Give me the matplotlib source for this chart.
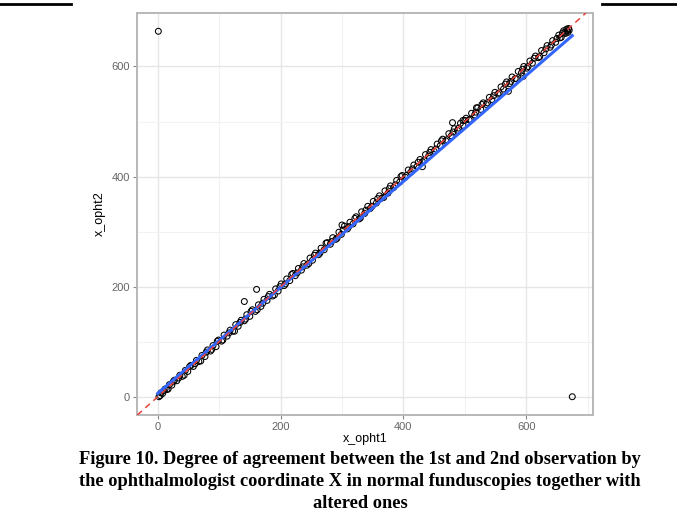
import numpy as np
import matplotlib.pyplot as plt
from matplotlib.lines import Line2D
from matplotlib.ticker import MultipleLocator

# -------------------------------------------------------------------- #
# Data
# -------------------------------------------------------------------- #
x_opht1 = [2, 5, 8, 12, 15, 19, 23, 27, 31, 36, 40, 45, 49, 54, 58, 63, 67, 72, 77, 81,
           86, 90, 95, 99, 104, 108, 113, 118, 122, 127, 131, 136, 141, 145, 150, 154,
           159, 164, 168, 173, 178, 182, 187, 192, 196, 201, 206, 210, 215, 220, 224,
           229, 234, 238, 243, 248, 252, 257, 262, 266, 271, 276, 281, 285, 290, 295,
           299, 304, 309, 313, 318, 323, 328, 332, 337, 342, 346, 351, 356, 361, 365,
           370, 375, 379, 384, 389, 394, 398, 403, 408, 412, 417, 422, 427, 431, 436,
           441, 445, 450, 455, 460, 464, 469, 474, 478, 483, 488, 493, 497, 502, 507,
           511, 516, 521, 526, 530, 535, 540, 544, 549, 554, 559, 563, 568, 573, 577,
           582, 587, 592, 596, 601, 606, 610, 615, 620, 625, 629, 634, 639, 643, 648,
           653, 657, 661, 664, 666, 668, 670,
           # off-line observations
           1, 675, 141, 161, 480, 497, 519, 571, 595, 431, 300]
x_opht2 = [0, 7, 6, 14, 13, 22, 21, 30, 29, 39, 37, 48, 46, 57, 55, 66, 64, 75, 73, 85,
           83, 93, 91, 103, 101, 112, 110, 121, 119, 131, 128, 139, 138, 149, 146, 158,
           155, 167, 164, 177, 175, 186, 183, 196, 192, 205, 202, 214, 211, 224, 220,
           233, 230, 242, 239, 252, 248, 261, 258, 270, 267, 280, 277, 289, 286, 299,
           295, 310, 305, 317, 314, 327, 323, 336, 333, 346, 342, 355, 352, 365, 361,
           374, 370, 383, 380, 393, 390, 402, 399, 412, 408, 421, 418, 431, 427, 440,
           437, 449, 446, 459, 456, 468, 465, 478, 474, 487, 484, 497, 493, 506, 503,
           515, 512, 525, 522, 534, 531, 544, 540, 553, 550, 563, 559, 572, 569, 581,
           578, 591, 588, 600, 597, 610, 606, 619, 616, 629, 625, 638, 635, 647, 644,
           657, 653, 665, 660, 668, 662, 666,
           664, 0, 173, 195, 498, 502, 525, 555, 582, 418, 312]

# second batch of observations lying along the diagonal
x_opht1_b = [4, 10, 17, 25, 34, 43, 52, 61, 70, 79, 88, 97, 106, 116, 125, 134, 143, 152,
             162, 171, 180, 190, 199, 208, 218, 227, 236, 246, 255, 264, 274, 283, 292,
             302, 311, 321, 330, 339, 349, 358, 368, 377, 387, 396, 405, 415, 424, 434,
             443, 453, 462, 471, 481, 490, 500, 509, 518, 528, 537, 547, 556, 566, 575,
             584, 594, 603, 613, 622, 632, 641, 650, 655, 659, 663, 667, 669]
x_opht2_b = [2, 11, 14, 27, 34, 39, 55, 60, 65, 81, 86, 101, 103, 116, 119, 135, 141, 155,
             158, 170, 182, 185, 200, 205, 222, 225, 236, 242, 257, 261, 279, 282, 288,
             303, 309, 324, 325, 339, 346, 360, 362, 378, 385, 400, 402, 414, 426, 429,
             444, 450, 465, 467, 481, 488, 502, 504, 517, 531, 534, 547, 552, 568, 573,
             578, 595, 600, 615, 618, 632, 639, 651, 652, 661, 662, 665, 669]

# lm smooth (blue) end points
fit_x = [0, 675]
fit_y = [6, 656]

caption = ["Figure 10. Degree of agreement between the 1st and 2nd observation by",
           "the ophthalmologist coordinate X in normal funduscopies together with",
           "altered ones"]

# -------------------------------------------------------------------- #
# Plot
# -------------------------------------------------------------------- #
fig = plt.figure(figsize=(6.77, 5.30), dpi=100)
ax = fig.add_axes([137/677, 1 - 415/530, (593 - 137)/677, (415 - 13)/530])

ax.scatter(x_opht1 + x_opht1_b, x_opht2 + x_opht2_b, s=18, facecolors='none',
           edgecolors='black', linewidths=0.75, zorder=3)
ax.plot(fit_x, fit_y, color='#3366FF', lw=2.2, zorder=4)
ax.axline((0, 0), slope=1, color='#E8403A', lw=1.1, ls=(0, (4, 3)), zorder=5)

ax.set_xlim(-33.75, 708.75)
ax.set_ylim(-33.2, 697.2)
ax.xaxis.set_major_locator(MultipleLocator(200))
ax.yaxis.set_major_locator(MultipleLocator(200))
ax.xaxis.set_minor_locator(MultipleLocator(100))
ax.yaxis.set_minor_locator(MultipleLocator(100))
ax.grid(which='major', color='#E6E6E6', lw=1.0, zorder=0)
ax.grid(which='minor', color='#F2F2F2', lw=0.8, zorder=0)
ax.set_axisbelow(True)
for sp in ax.spines.values():
    sp.set_color('#B8B8B8')
    sp.set_linewidth(1.4)
ax.tick_params(which='major', length=3, color='#888888', labelsize=8,
               labelcolor='#666666', pad=2)
ax.tick_params(which='minor', length=0)
for lab in ax.get_xticklabels() + ax.get_yticklabels():
    lab.set_family('Liberation Sans')

ax.set_xlabel('x_opht1', fontsize=9, family='Liberation Sans', labelpad=1)
ax.set_ylabel('x_opht2', fontsize=9, family='Liberation Sans', labelpad=4)

# top rule lines of the page
fig.add_artist(Line2D([0, 71/677], [1 - 4/530, 1 - 4/530], color='black', lw=2))
fig.add_artist(Line2D([602/677, 1], [1 - 4/530, 1 - 4/530], color='black', lw=2))

for i, line in enumerate(caption):
    fig.text(360/677, 1 - (460 + 22*i)/530, line, ha='center', va='center',
             fontsize=13.2, fontweight='bold', family='Liberation Serif')

fig.savefig('out.png', dpi=100)
